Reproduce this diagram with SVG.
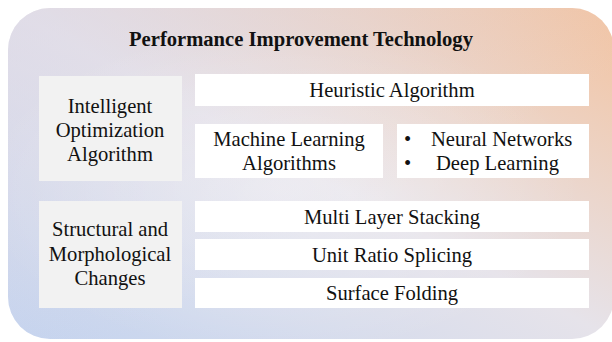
<svg xmlns="http://www.w3.org/2000/svg" width="612" height="342" viewBox="0 0 612 342">
<defs>
<linearGradient id="bg" x1="0" y1="1" x2="1" y2="0">
<stop offset="0" stop-color="#c3d3ef"/>
<stop offset="0.5" stop-color="#e6e3ea"/>
<stop offset="1" stop-color="#f3c3a0"/>
</linearGradient>
<radialGradient id="glow" cx="0.45" cy="0.55" r="0.5">
<stop offset="0" stop-color="#ffffff" stop-opacity="0.35"/>
<stop offset="1" stop-color="#ffffff" stop-opacity="0"/>
</radialGradient>
<linearGradient id="tl" x1="0" y1="0" x2="0.6" y2="0.6">
<stop offset="0" stop-color="#dcd8e6" stop-opacity="0.6"/>
<stop offset="1" stop-color="#dcd8e6" stop-opacity="0"/>
</linearGradient>
</defs>
<style>
.lbl{fill:#f2f2f2}
.box{fill:#ffffff}
.t{font-family:'Liberation Serif','Times New Roman',serif;font-size:20.6px;fill:#111111;text-anchor:middle}
.title{font-weight:bold}
.bl{text-anchor:start}
</style>
<g id="background">
<rect x="8" y="8" width="606" height="331" rx="42" fill="url(#bg)"/>
<rect x="8" y="8" width="606" height="331" rx="42" fill="url(#tl)"/>
<rect x="8" y="8" width="606" height="331" rx="42" fill="url(#glow)"/>
</g>
<g id="title"><text class="t title" x="301" y="46">Performance Improvement Technology</text></g>
<g id="intelligent">
<rect class="lbl" x="39" y="76" width="143" height="105"/>
<text class="t" x="110" y="113">Intelligent</text>
<text class="t" x="110" y="137">Optimization</text>
<text class="t" x="110" y="161">Algorithm</text>
</g>
<g id="heuristic">
<rect class="box" x="195" y="74" width="394" height="32"/>
<text class="t" x="392" y="97">Heuristic Algorithm</text>
</g>
<g id="ml">
<rect class="box" x="195" y="124" width="188" height="54"/>
<text class="t" x="289" y="146">Machine Learning</text>
<text class="t" x="289" y="170">Algorithms</text>
</g>
<g id="nn">
<rect class="box" x="397" y="124" width="192" height="54"/>
<text class="t bl" x="404" y="146">•</text>
<text class="t bl" x="431" y="146">Neural Networks</text>
<text class="t bl" x="404" y="170">•</text>
<text class="t bl" x="436" y="170">Deep Learning</text>
</g>
<g id="structural">
<rect class="lbl" x="39" y="201" width="143" height="107"/>
<text class="t" x="110" y="236">Structural and</text>
<text class="t" x="110" y="261">Morphological</text>
<text class="t" x="110" y="285">Changes</text>
</g>
<g id="multilayer">
<rect class="box" x="195" y="201" width="394" height="31"/>
<text class="t" x="392" y="224">Multi Layer Stacking</text>
</g>
<g id="unitratio">
<rect class="box" x="195" y="239" width="394" height="31"/>
<text class="t" x="392" y="262">Unit Ratio Splicing</text>
</g>
<g id="surface">
<rect class="box" x="195" y="278" width="394" height="30"/>
<text class="t" x="392" y="300">Surface Folding</text>
</g>
<g id="connectors"/>
</svg>
